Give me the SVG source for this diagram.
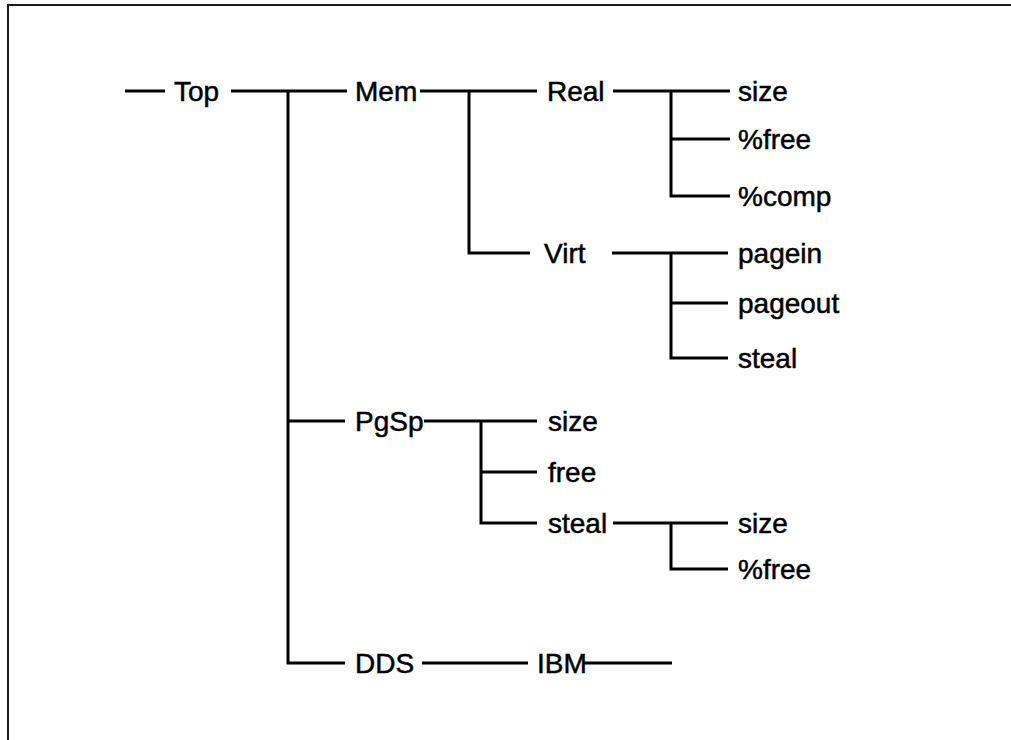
<svg xmlns="http://www.w3.org/2000/svg" width="1011" height="740" viewBox="0 0 1011 740">
<style>
.t{font-family:"Liberation Sans",Arial,sans-serif;font-size:28px;fill:#000;stroke:#000;stroke-width:0.5}
.c{fill:none;stroke:#000;stroke-width:3;stroke-linecap:butt;stroke-linejoin:miter}
.f{fill:none;stroke:#1a1a1a;stroke-width:2}
</style>
<rect width="1011" height="740" fill="#fff"/>
<g id="frame"><path class="f" d="M8,740 V5 H1011"/></g>
<g id="connectors">
<path class="c" d="M125,91 H165"/>
<path class="c" d="M231,91 H347"/>
<path class="c" d="M288,91 V663 H345"/>
<path class="c" d="M288,421 H345"/>
<path class="c" d="M420,91 H537"/>
<path class="c" d="M469,91 V253 H530"/>
<path class="c" d="M613,91 H730"/>
<path class="c" d="M671,91 V196 H730"/>
<path class="c" d="M671,139 H730"/>
<path class="c" d="M612,253 H728"/>
<path class="c" d="M671,253 V358 H728"/>
<path class="c" d="M671,303 H728"/>
<path class="c" d="M424,421 H537"/>
<path class="c" d="M481,421 V523 H537"/>
<path class="c" d="M481,472 H537"/>
<path class="c" d="M613,523 H728"/>
<path class="c" d="M671,523 V569 H728"/>
<path class="c" d="M422,663 H528"/>
<path class="c" d="M583,663 H672"/>
</g>
<g id="n-top"><text class="t" x="174" y="101">Top</text></g>
<g id="n-mem"><text class="t" x="355" y="101">Mem</text></g>
<g id="n-real"><text class="t" x="547" y="101">Real</text></g>
<g id="n-real-size"><text class="t" x="738" y="101">size</text></g>
<g id="n-real-free"><text class="t" x="738" y="149">%free</text></g>
<g id="n-real-comp"><text class="t" x="738" y="206">%comp</text></g>
<g id="n-virt"><text class="t" x="544" y="263">Virt</text></g>
<g id="n-virt-pagein"><text class="t" x="738" y="263">pagein</text></g>
<g id="n-virt-pageout"><text class="t" x="738" y="313">pageout</text></g>
<g id="n-virt-steal"><text class="t" x="738" y="368">steal</text></g>
<g id="n-pgsp"><text class="t" x="355" y="431">PgSp</text></g>
<g id="n-pgsp-size"><text class="t" x="548" y="431">size</text></g>
<g id="n-pgsp-free"><text class="t" x="548" y="482">free</text></g>
<g id="n-pgsp-steal"><text class="t" x="548" y="533">steal</text></g>
<g id="n-steal-size"><text class="t" x="738" y="533">size</text></g>
<g id="n-steal-free"><text class="t" x="738" y="579">%free</text></g>
<g id="n-dds"><text class="t" x="355" y="673">DDS</text></g>
<g id="n-ibm"><text class="t" x="537" y="673">IBM</text></g>
</svg>
